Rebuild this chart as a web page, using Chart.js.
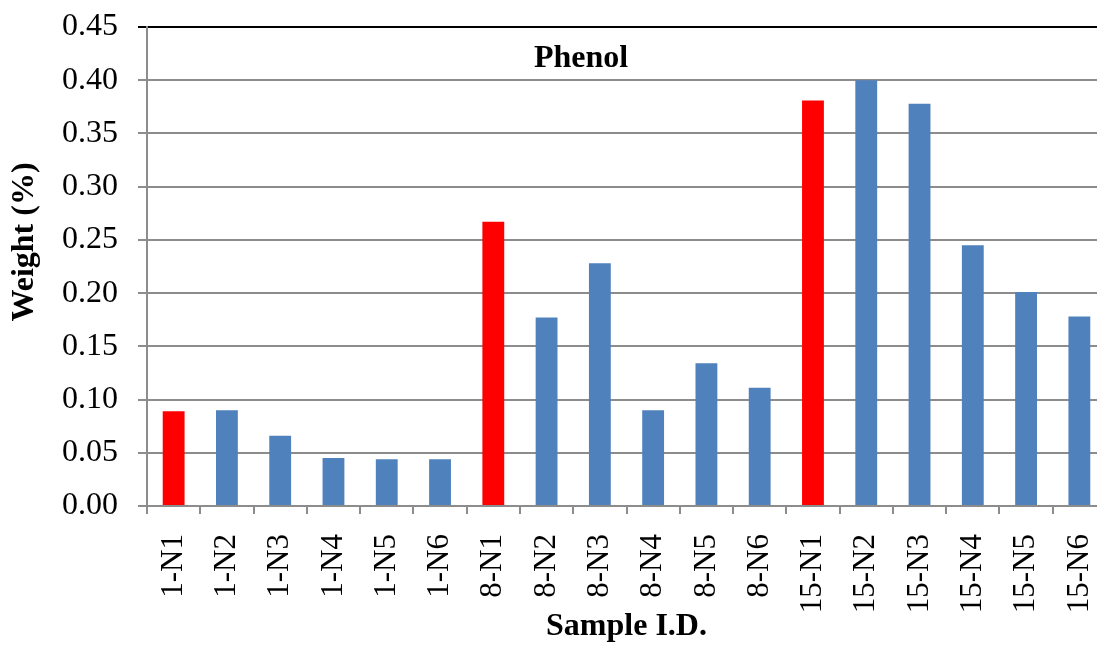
<!DOCTYPE html>
<html>
<head>
<meta charset="utf-8">
<script src="https://cdn.jsdelivr.net/npm/chart.js@4.4.1/dist/chart.umd.min.js"></script>
<style>
  html, body { margin: 0; padding: 0; overflow: hidden; background: #fff; }
  #wrap { position: relative; width: 1108px; height: 646px; }
</style>
</head>
<body>
<div id="wrap"><canvas id="phenolChart" width="1108" height="646"></canvas></div>
<script>
const categories = ['1-N1', '1-N2', '1-N3', '1-N4', '1-N5', '1-N6',
  '8-N1', '8-N2', '8-N3', '8-N4', '8-N5', '8-N6',
  '15-N1', '15-N2', '15-N3', '15-N4', '15-N5', '15-N6'];
const weights = [0.089, 0.090, 0.066, 0.045, 0.044, 0.044,
  0.267, 0.177, 0.228, 0.090, 0.134, 0.111,
  0.381, 0.400, 0.378, 0.245, 0.201, 0.178];
const yTicks = [0, 0.05, 0.10, 0.15, 0.20, 0.25, 0.30, 0.35, 0.40, 0.45];

// the N1 samples are drawn red, the rest blue
const barColors = categories.map(c => c.endsWith('-N1') ? '#FF0000' : '#4F81BD');

const serif = '"Liberation Serif", "Times New Roman", serif';

const textPlugin = {
  id: 'extraText',
  afterDraw(chart) {
    const ctx = chart.ctx;
    const area = chart.chartArea;
    ctx.save();
    ctx.fillStyle = '#000';
    ctx.font = 'bold 32px ' + serif;
    ctx.textAlign = 'center';
    ctx.textBaseline = 'alphabetic';
    ctx.fillText('Phenol', area.left + 434, area.top + 40);
    // y title, rotated
    ctx.translate(33, 242);
    ctx.rotate(-Math.PI / 2);
    ctx.fillText('Weight (%)', 0, 0);
    ctx.restore();
  }
};

const ctx = document.getElementById('phenolChart').getContext('2d');
new Chart(ctx, {
  type: 'bar',
  data: {
    labels: categories,
    datasets: [{
      label: 'Phenol',
      data: weights,
      backgroundColor: barColors,
      borderWidth: 0,
      barPercentage: 0.41,
      categoryPercentage: 1.0
    }]
  },
  options: {
    responsive: false,
    animation: false,
    layout: { padding: { top: 27, right: 2, left: 0, bottom: 0 } },
    plugins: {
      legend: { display: false },
      tooltip: { enabled: false }
    },
    scales: {
      x: {
        afterFit: s => {
          s.height = 140;
          s.paddingLeft = 0; s.paddingRight = 0;
        },
        grid: {
          drawOnChartArea: false,
          drawTicks: true,
          tickLength: 8,
          color: '#8c8c8c',
          lineWidth: 2
        },
        border: { color: '#8c8c8c', width: 2 },
        ticks: {
          color: '#000',
          font: { family: serif, size: 31 },
          minRotation: 90,
          maxRotation: 90,
          padding: 20,
          autoSkip: false
        },
        title: {
          display: true,
          text: 'Sample I.D.',
          color: '#000',
          font: { family: serif, size: 32, weight: 'bold' },
          padding: { top: 0, bottom: 0 }
        }
      },
      y: {
        min: 0,
        max: 0.45,
        afterFit: s => {
          s.width = 147;
          s.paddingTop = 0; s.paddingBottom = 0;
        },
        afterBuildTicks: s => { s.ticks = yTicks.map(v => ({ value: v })); },
        grid: {
          color: c => (c.tick && c.tick.value === 0.45) ? '#000' : '#8c8c8c',
          lineWidth: 2,
          tickLength: 9
        },
        border: { color: '#8c8c8c', width: 2 },
        ticks: {
          color: '#000',
          font: { family: serif, size: 32 },
          padding: 20,
          callback: v => v.toFixed(2)
        }
      }
    }
  },
  plugins: [textPlugin]
});
</script>
</body>
</html>
